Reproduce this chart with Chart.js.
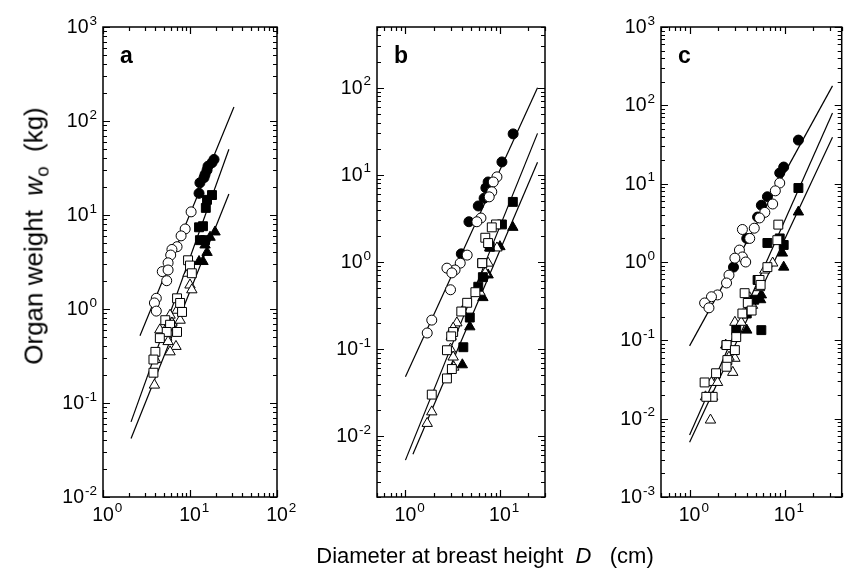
<!DOCTYPE html>
<html>
<head>
<meta charset="utf-8">
<script src="https://cdn.jsdelivr.net/npm/chart.js@4"></script>
<style>
  body { margin: 0; background: #fff; font-family: "Liberation Sans", Arial, sans-serif; }
  #wrap { position: relative; width: 849px; height: 571px; overflow: hidden; }
  #wrap canvas { position: absolute; left: 0; top: 0; }
  #ytitle { position: absolute; left: 34px; top: 236px; transform: translate(-50%, -50%) rotate(-90deg);
            font-size: 26px; white-space: nowrap; }
  #xtitle { position: absolute; left: 485px; top: 556px; transform: translate(-50%, -50%);
            font-size: 22px; white-space: nowrap; }
  sub { font-size: 0.72em; vertical-align: -0.3em; line-height: 0; }
</style>
</head>
<body>
<div id="wrap">
  <canvas id="pa" width="849" height="571"></canvas>
  <canvas id="pb" width="849" height="571"></canvas>
  <canvas id="pc" width="849" height="571"></canvas>
  <div id="ytitle">Organ weight&nbsp;&nbsp;<i>w</i><sub>o</sub>&nbsp;&nbsp;(kg)</div>
  <div id="xtitle">Diameter at breast height&nbsp; <i>D</i>&nbsp;&nbsp; (cm)</div>
</div>
<script>
// [D (cm), w (kg)]

// panel a
const aCircleOpen = [[10.3,10.8],[8.8,7.1],[7.9,6.0],[7.1,4.6],[6.2,4.3],[6.0,3.75],[5.6,3.1],[4.8,2.5],[5.6,2.6],[5.4,2.0],[4.1,1.3],[3.9,1.16],[4.1,0.95]];
const aCircleFilled = [[18.9,39],[17.9,36],[16.1,33],[15.7,30],[14.9,27],[14.5,25],[13.0,22],[12.7,17]];
const aSquareOpen = [[9.5,3.3],[10,2.9],[10.5,2.4],[7.1,1.3],[7.7,1.16],[8.1,0.93],[5.2,0.76],[5.9,0.68],[7.1,0.57],[5.4,0.57],[4.5,0.49],[4.0,0.35],[3.8,0.29],[3.8,0.21]];
const aSquareFilled = [[17.9,16.3],[15.7,14.5],[15.2,11.9],[14.1,7.6],[12.7,7.4],[13.0,5.4],[14.9,5.4]];
const aTriOpen = [[9.5,2.4],[10,1.8],[10.5,1.6],[7.7,0.76],[7.1,0.97],[5.9,0.86],[6.2,0.71],[5.4,0.63],[4.5,0.60],[5.4,0.50],[5.6,0.45],[6.9,0.40],[5.9,0.35],[4.0,0.29],[3.9,0.155]];
const aTriFilled = [[19.4,6.6],[17,5.8],[14.9,4.8],[14.1,3.2],[12.7,3.2],[15.7,4.0]];
const aFitCircle = [[2.66,0.52],[32,141]];
const aFitSquare = [[2.1,0.063],[28,50]];
const aFitTri = [[2.1,0.042],[28,16.7]];

// panel b
const bCircleOpen = [[9.3,9.5],[8.5,8.3],[8.2,6.4],[7.7,5.6],[6.3,3.2],[5.7,2.9],[4.5,1.2],[3.8,0.97],[3.35,0.81],[2.75,0.85],[3.1,0.75],[3.0,0.48],[1.9,0.215],[1.7,0.153]];
const bCircleFilled = [[13.8,29.6],[10.5,14.1],[7.5,8.3],[7.1,7.1],[6.8,5.4],[5.9,4.4],[4.7,2.9],[3.9,1.24]];
const bSquareOpen = [[9.1,2.7],[8.2,2.5],[7.0,1.9],[7.5,1.65],[6.5,0.97],[5.5,0.45],[4.5,0.34],[3.9,0.27],[3.2,0.157],[3.05,0.14],[2.75,0.097],[3.1,0.059],[2.75,0.046],[1.9,0.030]];
const bSquareFilled = [[13.7,4.9],[10.5,2.7],[7.8,1.5],[6.5,0.97],[6.6,0.67],[5.9,0.52],[4.8,0.23],[4.1,0.105]];
const bTriOpen = [[9.3,1.45],[7.8,1.45],[7.5,0.97],[7.0,0.75],[6.15,0.45],[4.0,0.27],[3.5,0.20],[3.2,0.174],[3.05,0.14],[3.0,0.10],[3.2,0.081],[3.25,0.062],[1.9,0.019],[1.7,0.014]];
const bTriFilled = [[13.7,2.5],[10,1.5],[7.5,0.71],[6.6,0.39],[4.8,0.18],[4.0,0.066]];
const bFitCircle = [[1,0.048],[25,100]];
const bFitSquare = [[1,0.0053],[25,30]];
const bFitTri = [[1.2,0.0062],[25,14]];

// panel c
const cCircleOpen = [[8.9,10.2],[8.0,8.1],[7.5,5.5],[6.2,4.3],[5.45,3.65],[4.8,2.7],[4.3,2.0],[3.6,2.6],[3.35,1.42],[3.6,1.16],[3.0,1.12],[3.9,1.0],[2.6,0.68],[2.45,0.54],[1.97,0.38],[1.7,0.36],[1.44,0.30],[1.6,0.26]];
const cCircleFilled = [[14,36],[9.8,16.3],[8.9,13.7],[6.6,6.8],[5.7,5.3],[5.2,3.75],[4.0,2.0],[2.9,0.86]];
const cSquareOpen = [[8.6,3.0],[8.4,1.9],[6.6,0.86],[5.45,0.59],[5.6,0.51],[3.8,0.40],[4.1,0.30],[3.6,0.22],[4.5,0.24],[3.1,0.11],[2.45,0.087],[3.0,0.075],[2.5,0.056],[2.45,0.046],[1.9,0.038],[1.44,0.029],[1.75,0.019],[1.5,0.019]];
const cSquareFilled = [[14,8.8],[8.9,2.0],[9.8,1.65],[6.6,1.75],[5.2,0.59],[4.0,0.22],[3.1,0.135],[5.7,0.135],[2.45,0.087],[4.8,0.33]];
const cTriOpen = [[7.5,0.97],[6.2,0.79],[5.45,0.47],[4.3,0.35],[4.6,0.28],[3.0,0.17],[3.5,0.17],[3.0,0.059],[2.85,0.039],[2.6,0.061],[1.7,0.029],[1.97,0.029],[1.47,0.019],[1.75,0.019],[1.66,0.0096]];
const cTriFilled = [[14,4.35],[9.5,1.3],[9.8,0.86],[5.7,0.38],[5.6,0.33],[4.0,0.135],[2.4,0.087]];
const cFitCircle = [[1,0.085],[32,177]];
const cFitSquare = [[1,0.0062],[32,80]];
const cFitTri = [[1,0.005],[32,39]];

// axis ranges and labelled ticks
const aXRange = [1, 100],   aYRange = [0.01, 1000];
const bXRange = [0.5, 30],  bYRange = [0.002, 500];
const cXRange = [0.5, 40],  cYRange = [0.001, 1000];
const aXTicks = [1, 10, 100];
const aYTicks = [0.01, 0.1, 1, 10, 100, 1000];
const bXTicks = [1, 10];
const bYTicks = [0.01, 0.1, 1, 10, 100];
const cXTicks = [1, 10];
const cYTicks = [0.001, 0.01, 0.1, 1, 10, 100, 1000];

const FONT = '"Liberation Sans", Arial, sans-serif';
const BASE = '19.5px ' + FONT;
const EXP = '13.5px ' + FONT;

function pts(arr) {
  return arr.map(p => ({ x: p[0], y: p[1] }));
}

function marks(arr, style, filled) {
  let r = 5;
  if (style === 'rect') r = 6.3;
  if (style === 'triangle') r = 6;
  return {
    data: pts(arr),
    pointStyle: style,
    pointRadius: r,
    backgroundColor: filled ? '#000' : '#fff',
    borderColor: '#000',
    borderWidth: 1,
    order: 1
  };
}

function fit(arr) {
  return {
    data: pts(arr),
    showLine: true,
    pointRadius: 0,
    borderColor: '#000',
    borderWidth: 1.2,
    order: 10
  };
}

function tickValues(min, max) {
  const out = [];
  for (let e = Math.floor(Math.log10(min)); e <= Math.ceil(Math.log10(max)); e++) {
    for (let m = 1; m <= 9; m++) {
      const v = m * Math.pow(10, e);
      if (v >= min * 0.9999 && v <= max * 1.0001) out.push({ v: v, major: m === 1 });
    }
  }
  return out;
}

function powLabel(ctx, v) {
  const e = String(Math.round(Math.log10(v)));
  ctx.font = BASE;
  const w10 = ctx.measureText('10').width;
  ctx.font = EXP;
  const we = ctx.measureText(e).width;
  return { e: e, w10: w10, we: we };
}

const framePlugin = {
  id: 'frame',
  afterDraw(chart, args, opts) {
    const ctx = chart.ctx;
    const { left, right, top, bottom } = chart.chartArea;
    const xs = chart.scales.x, ys = chart.scales.y;
    ctx.save();
    ctx.strokeStyle = '#000';
    ctx.lineWidth = 1.5;
    ctx.strokeRect(left, top, right - left, bottom - top);

    ctx.lineWidth = 1.2;
    ctx.beginPath();
    tickValues(xs.min, xs.max).forEach(t => {
      const px = Math.round(xs.getPixelForValue(t.v)) + 0.5;
      const len = t.major ? 7 : 4;
      ctx.moveTo(px, bottom); ctx.lineTo(px, bottom - len);
      ctx.moveTo(px, top); ctx.lineTo(px, top + len);
    });
    tickValues(ys.min, ys.max).forEach(t => {
      const py = Math.round(ys.getPixelForValue(t.v)) + 0.5;
      const len = t.major ? 7 : 4;
      ctx.moveTo(left, py); ctx.lineTo(left + len, py);
      ctx.moveTo(right, py); ctx.lineTo(right - len, py);
    });
    ctx.stroke();

    ctx.fillStyle = '#000';
    ctx.textAlign = 'left';
    ctx.textBaseline = 'alphabetic';
    opts.xTicks.forEach(v => {
      const px = xs.getPixelForValue(v);
      const L = powLabel(ctx, v);
      ctx.font = BASE;
      ctx.fillText('10', px - L.w10 / 2, bottom + 24);
      ctx.font = EXP;
      ctx.fillText(L.e, px + L.w10 / 2 + 1, bottom + 15);
    });
    opts.yTicks.forEach(v => {
      const py = ys.getPixelForValue(v);
      const L = powLabel(ctx, v);
      const xe = left - 6 - L.we;
      ctx.font = EXP;
      ctx.fillText(L.e, xe, py - 2.5);
      ctx.font = BASE;
      ctx.fillText('10', xe - 1 - L.w10, py + 6);
    });

    ctx.font = 'bold 23px ' + FONT;
    ctx.fillText(opts.letter, left + 17, top + 36);
    ctx.restore();
  }
};

function panel(id, box, xr, yr, xt, yt, letter, sets) {
  return new Chart(document.getElementById(id), {
    type: 'scatter',
    data: { datasets: sets },
    options: {
      responsive: false,
      animation: false,
      events: [],
      layout: { padding: { left: box[0], right: 849 - box[1], top: box[2], bottom: 571 - box[3] } },
      plugins: {
        legend: { display: false },
        tooltip: { enabled: false },
        frame: { xTicks: xt, yTicks: yt, letter: letter }
      },
      scales: {
        x: { type: 'logarithmic', min: xr[0], max: xr[1], display: false },
        y: { type: 'logarithmic', min: yr[0], max: yr[1], display: false }
      }
    },
    plugins: [framePlugin]
  });
}

panel('pa', [103, 277, 27, 497], aXRange, aYRange, aXTicks, aYTicks, 'a', [
  fit(aFitCircle), fit(aFitSquare), fit(aFitTri),
  marks(aCircleOpen, 'circle', false), marks(aCircleFilled, 'circle', true),
  marks(aSquareOpen, 'rect', false), marks(aSquareFilled, 'rect', true),
  marks(aTriOpen, 'triangle', false), marks(aTriFilled, 'triangle', true)
]);

panel('pb', [377, 545, 27, 497], bXRange, bYRange, bXTicks, bYTicks, 'b', [
  fit(bFitCircle), fit(bFitSquare), fit(bFitTri),
  marks(bCircleOpen, 'circle', false), marks(bCircleFilled, 'circle', true),
  marks(bSquareOpen, 'rect', false), marks(bSquareFilled, 'rect', true),
  marks(bTriOpen, 'triangle', false), marks(bTriFilled, 'triangle', true)
]);

panel('pc', [661, 842, 27, 497], cXRange, cYRange, cXTicks, cYTicks, 'c', [
  fit(cFitCircle), fit(cFitSquare), fit(cFitTri),
  marks(cCircleOpen, 'circle', false), marks(cCircleFilled, 'circle', true),
  marks(cSquareOpen, 'rect', false), marks(cSquareFilled, 'rect', true),
  marks(cTriOpen, 'triangle', false), marks(cTriFilled, 'triangle', true)
]);
</script>
</body>
</html>
